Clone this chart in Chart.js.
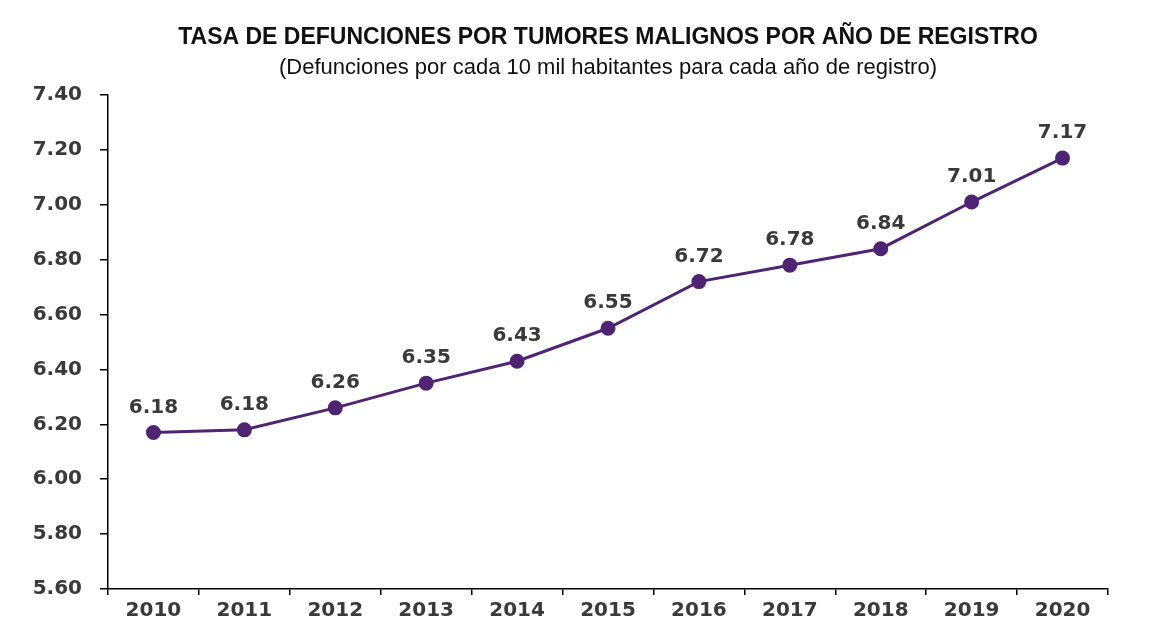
<!DOCTYPE html>
<html>
<head>
<meta charset="utf-8">
<script src="https://cdn.jsdelivr.net/npm/chart.js@4/dist/chart.umd.min.js"></script>
<style>
html,body{margin:0;padding:0;background:#fff;}
#wrap{width:1176px;height:620px;position:relative;}
</style>
</head>
<body>
<div id="wrap"><canvas id="c" width="1176" height="620"></canvas></div>
<script>
const years = ['2010','2011','2012','2013','2014','2015','2016','2017','2018','2019','2020'];
const rates = [6.17, 6.18, 6.26, 6.35, 6.43, 6.55, 6.72, 6.78, 6.84, 7.01, 7.17];
const rateLabels = ['6.18','6.18','6.26','6.35','6.43','6.55','6.72','6.78','6.84','7.01','7.17'];
const yMin = 5.6, yMax = 7.4, yStep = 0.2;
const titleText = 'TASA DE DEFUNCIONES POR TUMORES MALIGNOS POR AÑO DE REGISTRO';
const subtitleText = '(Defunciones por cada 10 mil habitantes para cada año de registro)';

const lineColor = '#4f2473';
const textColor = '#3a3a3a';
const numFont = {family: "'DejaVu Sans', sans-serif", size: 20, weight: 'bold'};

const dataLabels = {
  id: 'dataLabels',
  afterDatasetsDraw(chart) {
    const ctx = chart.ctx;
    const meta = chart.getDatasetMeta(0);
    ctx.save();
    ctx.font = `bold ${numFont.size}px ${numFont.family}`;
    ctx.fillStyle = textColor;
    ctx.textAlign = 'center';
    ctx.textBaseline = 'middle';
    meta.data.forEach((pt, i) => {
      ctx.fillText(rateLabels[i], pt.x, pt.y - 25);
    });
    ctx.restore();
  }
};

new Chart(document.getElementById('c'), {
  type: 'line',
  data: {
    labels: years,
    datasets: [{
      data: rates,
      borderColor: lineColor,
      backgroundColor: lineColor,
      borderWidth: 3,
      pointRadius: 6,
      pointHoverRadius: 6,
      pointBackgroundColor: lineColor,
      pointBorderColor: lineColor,
      tension: 0,
      fill: false
    }]
  },
  options: {
    responsive: false,
    animation: false,
    devicePixelRatio: 1,
    layout: {padding: {left: 10, right: 68, top: 0, bottom: 0}},
    plugins: {
      legend: {display: false},
      tooltip: {enabled: false},
      title: {
        display: true,
        text: titleText,
        fullSize: false,
        color: '#111',
        font: {family: "'Liberation Sans', Arial, sans-serif", size: 23, weight: 'bold'},
        padding: {top: 24, bottom: 0}
      },
      subtitle: {
        display: true,
        text: subtitleText,
        fullSize: false,
        color: '#111',
        font: {family: "'Liberation Sans', Arial, sans-serif", size: 22, weight: 'normal'},
        padding: {top: 3, bottom: 14}
      }
    },
    scales: {
      x: {
        offset: true,
        grid: {display: true, offset: true, drawOnChartArea: false, drawTicks: true, tickLength: 6, color: '#000', lineWidth: 1.5},
        border: {display: true, color: '#000', width: 1.5},
        ticks: {color: textColor, font: numFont, padding: 4, maxRotation: 0, autoSkip: false},
        afterFit(scale) { scale.height = 31; }
      },
      y: {
        min: yMin,
        max: yMax,
        grid: {display: true, drawOnChartArea: false, drawTicks: true, tickLength: 8, color: '#000', lineWidth: 1.5},
        border: {display: true, color: '#000', width: 1.5},
        ticks: {
          stepSize: yStep,
          color: textColor,
          font: numFont,
          padding: 18,
          callback: (v) => Number(v).toFixed(2)
        },
        afterFit(scale) { scale.width = 98; }
      }
    }
  },
  plugins: [dataLabels]
});
</script>
</body>
</html>
